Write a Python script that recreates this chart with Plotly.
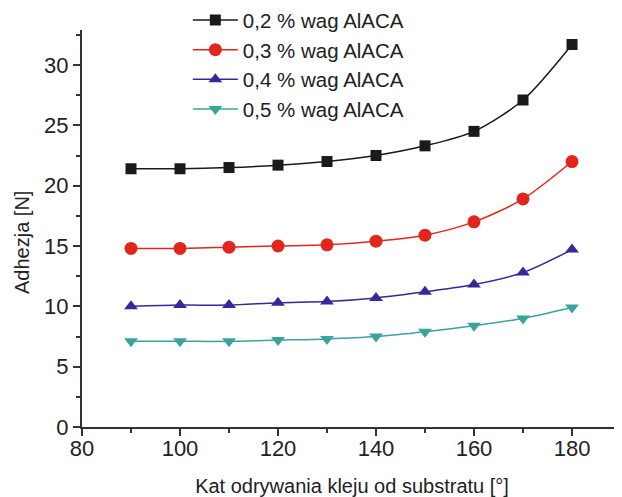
import plotly.graph_objects as go

angles = [90, 100, 110, 120, 130, 140, 150, 160, 170, 180]
s02 = [21.4, 21.4, 21.5, 21.7, 22.0, 22.5, 23.3, 24.5, 27.1, 31.7]
s03 = [14.8, 14.8, 14.9, 15.0, 15.1, 15.4, 15.9, 17.0, 18.9, 22.0]
s04 = [10.0, 10.1, 10.1, 10.3, 10.4, 10.7, 11.2, 11.8, 12.8, 14.7]
s05 = [7.1, 7.1, 7.1, 7.2, 7.3, 7.5, 7.9, 8.4, 9.0, 9.9]
names = ["0,2 % wag AlACA", "0,3 % wag AlACA", "0,4 % wag AlACA", "0,5 % wag AlACA"]

series = [s02, s03, s04, s05]
colors = ["#1a1a1a", "#e3261c", "#35299a", "#3aa39b"]
symbols = ["square", "circle", "triangle-up", "triangle-down"]
sizes = [11, 13, 12, 12]

fig = go.Figure()
for ys, nm, c, sym, sz in zip(series, names, colors, symbols, sizes):
    fig.add_trace(go.Scatter(
        x=angles, y=ys, name=nm, mode="lines+markers",
        line=dict(color=c, width=1.5, shape="spline", smoothing=0.8),
        marker=dict(symbol=sym, size=sz, color=c),
    ))

font = "Arial, Liberation Sans, sans-serif"
fig.update_layout(
    width=614, height=489,
    margin=dict(l=74, r=0, t=22, b=70, autoexpand=False),
    paper_bgcolor="white", plot_bgcolor="white",
    font=dict(family=font, color="#222"),
    showlegend=True,
    legend=dict(x=0.196, y=1.075, xanchor="left", yanchor="top",
                bgcolor="rgba(0,0,0,0)", font=dict(size=20.5, family=font),
                tracegroupgap=0, itemwidth=45),
    xaxis=dict(range=[80, 190.2], tickvals=[80, 100, 120, 140, 160, 180],
               showgrid=False, zeroline=False,
               showline=True, linecolor="#333", linewidth=2,
               ticks="outside", ticklen=7, tickwidth=2, tickcolor="#333",
               minor=dict(dtick=10, ticks="outside", ticklen=4, tickwidth=2, tickcolor="#333"),
               tickfont=dict(size=22, family=font), ticklabelstandoff=-6,
               title=dict(text="Kat odrywania kleju od substratu [°]", font=dict(size=20, family=font), standoff=22)),
    yaxis=dict(range=[0, 32.9], tickvals=[0, 5, 10, 15, 20, 25, 30],
               showgrid=False, zeroline=False,
               showline=True, linecolor="#333", linewidth=2,
               ticks="outside", ticklen=7, tickwidth=2, tickcolor="#333",
               minor=dict(dtick=2.5, ticks="outside", ticklen=4, tickwidth=2, tickcolor="#333"),
               tickfont=dict(size=22, family=font)),
    annotations=[dict(text="Adhezja [N]", textangle=-90, xref="paper", yref="paper",
                      x=0, y=0.4635, xanchor="center", yanchor="middle", xshift=-60,
                      showarrow=False, font=dict(size=20, family=font, color="#222"))],
)

fig.write_html("out.html")
